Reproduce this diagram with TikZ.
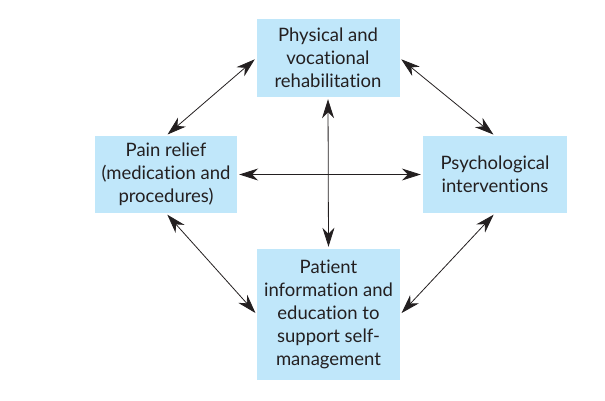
\documentclass[tikz,border=0pt]{standalone}
\usepackage{fontspec}
\setmainfont{Lato}[Ligatures={NoCommon}]
\usetikzlibrary{arrows.meta}
\definecolor{boxblue}{HTML}{C0E7FA}
\definecolor{inkdark}{HTML}{231F20}

\begin{document}
\begin{tikzpicture}[x=1pt,y=-1pt,
	part/.style={fill=boxblue,text=inkdark,align=center,inner sep=0pt,
		font=\fontsize{18.5}{23}\selectfont},
	link/.style={{Stealth[length=19pt,width=12pt,inset=6pt]}-{Stealth[length=19pt,width=12pt,inset=6pt]},
		draw=inkdark,line width=0.8pt,shorten >=2pt,shorten <=2pt}]
						\useasboundingbox (0,0) rectangle (605,400);
						
						\node[part,minimum width=143pt,minimum height=78pt] (rehab) at (328,58) {Physical and\\vocational\\rehabilitation};
						\node[part,minimum width=142pt,minimum height=77pt] (pain) at (166,174.5) {Pain relief\\(medication and\\procedures)};
						\node[part,minimum width=144pt,minimum height=77pt] (psych) at (495,174.5) {Psychological\\interventions};
						\node[part,minimum width=143pt,minimum height=131pt] (patient) at (328.5,314.5) {Patient\\information and\\education to\\support self-\\management};
						
						\draw[link] (pain.north) -- (rehab.west);
						\draw[link] (rehab.east) -- (psych.north);
						\draw[link] (pain.south) -- (patient.west);
						\draw[link] (psych.south) -- (patient.east);
						\draw[link] (rehab.south) -- (patient.north);
						\draw[link] (pain.east) -- (psych.west);
					\end{tikzpicture}
\end{document}
